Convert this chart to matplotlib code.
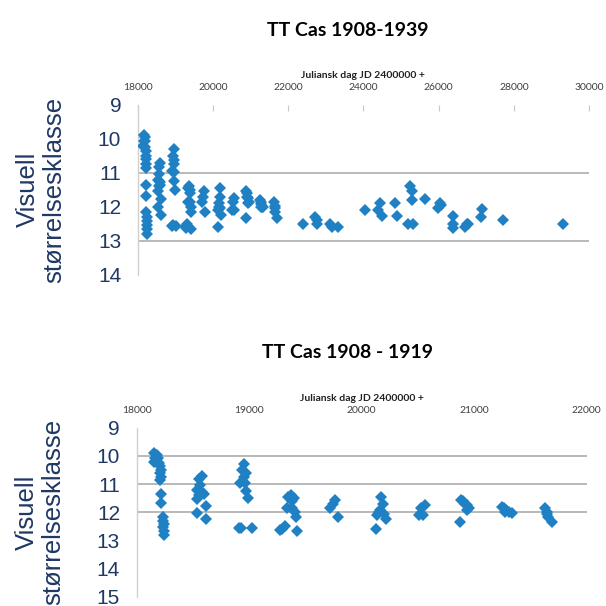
import numpy as np
import matplotlib
matplotlib.use('Agg')
import matplotlib.pyplot as plt

# TT Cas visuelle observasjoner (JD - 2400000, størrelsesklasse)
jd = [18155, 18180, 18165, 18190, 18150, 18200, 18205, 18215, 18205, 18215,
      18205, 18220, 18220, 18230, 18235, 18245, 18235, 18245, 18240,
      18580, 18555, 18565, 18540, 18580, 18555, 18595, 18535, 18615, 18540, 18620,
      18955, 18935, 18970, 18950, 18920, 18965, 18972, 18985, 18912, 18925, 19022,
      19275, 19290, 19320, 19335, 19345, 19370, 19380, 19380, 19395, 19405, 19415, 19425,
      19720, 19745, 19765, 19785,
      20125, 20135, 20150, 20165, 20175, 20190, 20195, 20215,
      20505, 20530, 20545, 20565,
      20870, 20885, 20900, 20915, 20935, 20950, 20940,
      21245, 21265, 21285, 21275, 21310, 21340,
      21630, 21645, 21650, 21660, 21690,
      22385, 22715, 22755, 22775, 23110, 23155, 23330,
      24045, 24395, 24440, 24485, 24840, 24885,
      25195, 25240, 25285, 25285, 25310, 25640,
      25990, 26035, 26060, 26375, 26390, 26390, 26700, 26745, 26780,
      27120, 27145, 27705, 29315]
mag = [9.88, 9.96, 10.08, 10.08, 10.2, 10.24, 10.35, 10.5, 10.61, 10.73,
       10.85, 11.36, 11.68, 12.17, 12.29, 12.41, 12.53, 12.65, 12.8,
       10.71, 10.83, 11.03, 11.21, 11.27, 11.38, 11.35, 11.54, 11.76, 12.01, 12.25,
       10.3, 10.5, 10.62, 10.75, 10.95, 10.97, 11.25, 11.5, 12.57, 12.55, 12.57,
       12.62, 12.58, 12.5, 11.85, 11.45, 11.4, 11.6, 11.85, 11.5, 12.0, 12.15, 12.65,
       11.85, 11.7, 11.55, 12.15,
       12.6, 12.1, 12.0, 11.9, 11.45, 11.7, 12.05, 12.25,
       12.1, 11.85, 12.1, 11.75,
       12.33, 11.55, 11.6, 11.7, 11.75, 11.85, 11.9,
       11.8, 11.85, 11.92, 12.0, 12.0, 12.02,
       11.86, 11.98, 12.05, 12.15, 12.33,
       12.5, 12.3, 12.4, 12.5, 12.5, 12.6, 12.6,
       12.1, 12.1, 11.9, 12.27, 11.9, 12.27,
       12.5, 11.4, 11.55, 11.8, 12.5, 11.78,
       12.05, 11.88, 11.95, 12.27, 12.5, 12.62, 12.6, 12.52, 12.5,
       12.3, 12.08, 12.4, 12.5]

jd = np.array(jd)
mag = np.array(mag)

titler = ['TT Cas 1908-1939', 'TT Cas 1908 - 1919']
x_grenser = [(18000, 30000), (18000, 22000)]
x_steg = [2000, 1000]
y_grenser = [(9, 14), (9, 15)]
rutenett = [[11, 13], [10, 11, 12]]

blaa = '#1f80c3'
mork_blaa = '#1f3864'

fig = plt.figure(figsize=(6.06, 6.06), dpi=100)

posisjoner = [[0.2274, 0.5467, 0.7446, 0.2805],
              [0.2256, 0.0149, 0.7426, 0.2792]]
tittel_y = [1 - 30 / 606, 1 - 352 / 606]

for i in range(2):
    ax = fig.add_axes(posisjoner[i])
    if i == 1:
        sel = jd < x_grenser[1][1]
    else:
        sel = np.ones(len(jd), dtype=bool)
    for g in rutenett[i]:
        ax.axhline(g, color='#a6a6a6', lw=1.1, zorder=1)
    ax.plot(jd[sel], mag[sel], 'D', color=blaa, markersize=6,
            markeredgewidth=0, zorder=3)

    ax.set_xlim(*x_grenser[i])
    ax.set_ylim(y_grenser[i][1], y_grenser[i][0])
    ax.set_xticks(np.arange(x_grenser[i][0], x_grenser[i][1] + 1, x_steg[i]))
    ax.set_yticks(np.arange(y_grenser[i][0], y_grenser[i][1] + 1))

    ax.xaxis.tick_top()
    ax.xaxis.set_label_position('top')
    for s in ['top', 'right', 'bottom']:
        ax.spines[s].set_visible(False)
    ax.spines['left'].set_color('#d0d0d0')
    ax.spines['left'].set_linewidth(1.0)

    ax.tick_params(axis='x', direction='in', length=4 if i == 0 else 0,
                   color='#c8c8c8', pad=9, labelsize=7.5, labelcolor='#404040')
    for t in ax.get_xticklabels():
        t.set_fontfamily('Lato')
    ax.tick_params(axis='y', length=0, pad=12, labelsize=15, labelcolor=mork_blaa)
    for t in ax.get_yticklabels():
        t.set_fontfamily('Liberation Sans')

    ax.set_xlabel('Juliansk dag JD 2400000 +', fontsize=7.5, fontweight='bold',
                  family='Lato', labelpad=4, color='#202020')
    ax.set_ylabel('Visuell\nstørrelsesklasse', fontsize=18.5, color=mork_blaa,
                  family='Liberation Sans', linespacing=1.15)
    ax.yaxis.set_label_coords(-0.158, 0.5)
    ax.patch.set_alpha(0)

    fig.text(348 / 606, tittel_y[i], titler[i], ha='center', va='center',
             fontsize=14, fontweight='bold', family='Lato')

fig.savefig('out.png', dpi=100)
